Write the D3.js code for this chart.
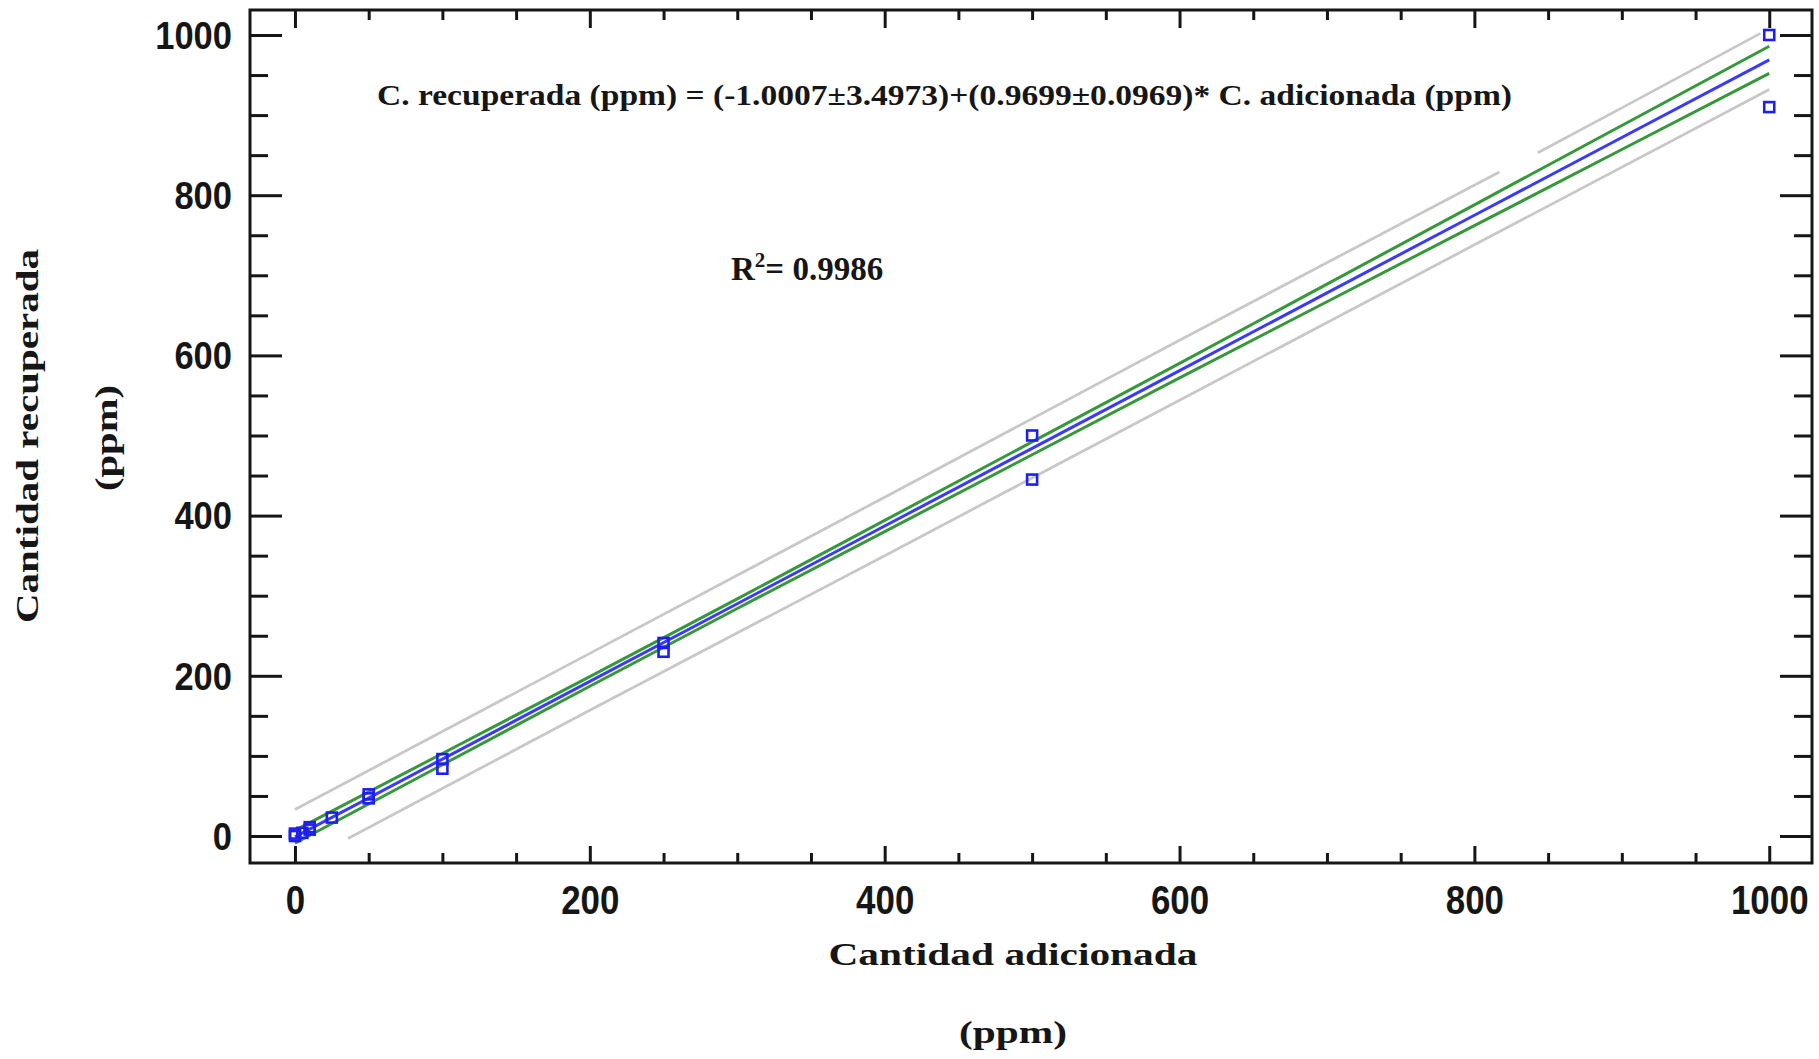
<!DOCTYPE html>
<html>
<head>
<meta charset="utf-8">
<script src="https://cdn.jsdelivr.net/npm/d3@7"></script>
<style>
  html, body { margin: 0; padding: 0; background: #fff; }
  svg { display: block; }
</style>
</head>
<body>
<svg id="chart" width="1819" height="1059"></svg>
<script>
// Recovery data: amount added vs amount recovered (ppm)
const addedPpm     = [0, 0, 5, 10, 10, 25, 50, 50, 100, 100, 250, 250, 500, 500, 1000, 1000];
const recoveredPpm = [0, 3, 4, 11, 8, 23, 52, 47, 96, 84, 241, 230, 500, 445, 1000, 910];

// Fitted line and confidence limits, sampled along the added axis
const bandX     = [0, 100, 200, 300, 400, 500, 600, 700, 800, 900, 1000];
const fitY      = [-1, 96, 193, 290, 387, 484, 581, 678, 775, 872, 969];
const confUpper = [7, 103, 199, 296, 394, 492, 590, 689, 788, 887, 986];
const confLower = [-9, 89, 187, 284, 380, 476, 572, 667, 762, 857, 952];

// Prediction limits (upper one is drawn in two pieces)
const predUpperX1 = [0, 200, 400, 600, 817];
const predUpperY1 = [33, 228, 423, 619, 829];
const predUpperX2 = [843, 900, 994];
const predUpperY2 = [853, 909, 1002];
const predLowerX  = [36, 200, 400, 600, 800, 1000];
const predLowerY  = [-3, 157, 350, 544, 738, 932];

// Axis ticks
const majorTicks = [0, 200, 400, 600, 800, 1000];
const minorTicks = [50, 100, 150, 250, 300, 350, 450, 500, 550, 650, 700, 750, 850, 900, 950];
const tickLabels = ["0", "200", "400", "600", "800", "1000"];

const equationText = "C. recuperada (ppm) = (-1.0007\u00b13.4973)+(0.9699\u00b10.0969)* C. adicionada (ppm)";
const r2Value = "= 0.9986";
const xTitle = ["Cantidad adicionada", "(ppm)"];
const yTitle = ["Cantidad recuperada", "(ppm)"];

const svg = d3.select("#chart");
const L = 250, R = 1812, T = 10, B = 863;

const x = d3.scaleLinear().domain([-30.5, 1029]).range([L, R]);
const y = d3.scaleLinear().domain([-33.7, 1031.2]).range([B, T]);

const ink = "#161616";
const tickFont = "'Liberation Sans Narrow', 'Arial Narrow', 'Liberation Sans', Arial, sans-serif";
const serif = "'Liberation Serif', 'Times New Roman', serif";

svg.append("defs").append("clipPath").attr("id", "plotClip")
  .append("rect").attr("x", L).attr("y", T).attr("width", R - L).attr("height", B - T);

const plot = svg.append("g").attr("clip-path", "url(#plotClip)");

const line = d3.line().x(d => x(d[0])).y(d => y(d[1]));
const zipXY = (xs, ys) => xs.map((v, i) => [v, ys[i]]);

// prediction limits (gray)
[[predUpperX1, predUpperY1], [predUpperX2, predUpperY2], [predLowerX, predLowerY]].forEach(([xs, ys]) => {
  plot.append("path").datum(zipXY(xs, ys))
    .attr("d", line).attr("fill", "none")
    .attr("stroke", "#c8c8c8").attr("stroke-width", 2.8);
});

// confidence limits (green)
[confUpper, confLower].forEach(ys => {
  plot.append("path").datum(zipXY(bandX, ys))
    .attr("d", line).attr("fill", "none")
    .attr("stroke", "#36983a").attr("stroke-width", 3);
});

// fitted line (blue)
plot.append("path").datum(zipXY(bandX, fitY))
  .attr("d", line).attr("fill", "none")
  .attr("stroke", "#3a3aff").attr("stroke-width", 3);

// observations (open squares)
const sq = 10;
plot.append("g").selectAll("rect")
  .data(zipXY(addedPpm, recoveredPpm))
  .join("rect")
  .attr("x", d => x(d[0]) - sq / 2)
  .attr("y", d => y(d[1]) - sq / 2)
  .attr("width", sq).attr("height", sq)
  .attr("fill", "none")
  .attr("stroke", "#1e1eee").attr("stroke-width", 2.6);

// axes: ticks only, frame drawn separately
function styleAxis(g) {
  g.select(".domain").remove();
  g.selectAll(".tick line").attr("stroke", ink).attr("stroke-width", 3);
}

const fmt = d => tickLabels[majorTicks.indexOf(d)];

// bottom
svg.append("g").attr("transform", `translate(0,${B})`)
  .call(d3.axisBottom(x).tickValues(majorTicks).tickSize(-17).tickPadding(23).tickFormat(fmt))
  .call(styleAxis)
  .call(g => g.selectAll(".tick text")
    .attr("fill", ink).attr("font-family", tickFont).attr("font-weight", "bold")
    .attr("font-size", 40)
    .attr("textLength", function () { return this.textContent.length * 19.4; })
    .attr("lengthAdjust", "spacingAndGlyphs"));
svg.append("g").attr("transform", `translate(0,${B})`)
  .call(d3.axisBottom(x).tickValues(minorTicks).tickSize(-10).tickFormat(""))
  .call(styleAxis);

// top
svg.append("g").attr("transform", `translate(0,${T})`)
  .call(d3.axisTop(x).tickValues(majorTicks).tickSize(-18).tickFormat(""))
  .call(styleAxis);
svg.append("g").attr("transform", `translate(0,${T})`)
  .call(d3.axisTop(x).tickValues(minorTicks).tickSize(-10).tickFormat(""))
  .call(styleAxis);

// left
svg.append("g").attr("transform", `translate(${L},0)`)
  .call(d3.axisLeft(y).tickValues(majorTicks).tickSize(-32).tickPadding(18).tickFormat(fmt))
  .call(styleAxis)
  .call(g => g.selectAll(".tick text")
    .attr("fill", ink).attr("font-family", tickFont).attr("font-weight", "bold")
    .attr("font-size", 39).attr("dy", "0.34em")
    .attr("textLength", function () { return this.textContent.length * 19.2; })
    .attr("lengthAdjust", "spacingAndGlyphs"));
svg.append("g").attr("transform", `translate(${L},0)`)
  .call(d3.axisLeft(y).tickValues(minorTicks).tickSize(-18).tickFormat(""))
  .call(styleAxis);

// right
svg.append("g").attr("transform", `translate(${R},0)`)
  .call(d3.axisRight(y).tickValues(majorTicks).tickSize(-32).tickFormat(""))
  .call(styleAxis);
svg.append("g").attr("transform", `translate(${R},0)`)
  .call(d3.axisRight(y).tickValues(minorTicks).tickSize(-18).tickFormat(""))
  .call(styleAxis);

// frame
svg.append("rect").attr("x", L).attr("y", T).attr("width", R - L).attr("height", B - T)
  .attr("fill", "none").attr("stroke", ink).attr("stroke-width", 3);

// regression equation
svg.append("text")
  .attr("x", 377).attr("y", 105)
  .attr("font-family", serif).attr("font-weight", "bold").attr("font-size", 30)
  .attr("fill", ink)
  .attr("textLength", 1135).attr("lengthAdjust", "spacingAndGlyphs")
  .text(equationText);

// coefficient of determination
const r2 = svg.append("text")
  .attr("x", 731).attr("y", 280)
  .attr("font-family", serif).attr("font-weight", "bold").attr("font-size", 33)
  .attr("fill", ink);
r2.append("tspan").text("R");
r2.append("tspan").attr("font-size", 21).attr("dy", -13).text("2");
r2.append("tspan").attr("dy", 13).text(r2Value);

// axis titles
svg.append("text")
  .attr("x", 1013).attr("y", 965).attr("text-anchor", "middle")
  .attr("font-family", serif).attr("font-weight", "bold").attr("font-size", 31)
  .attr("fill", ink)
  .attr("textLength", 369).attr("lengthAdjust", "spacingAndGlyphs")
  .text(xTitle[0]);
svg.append("text")
  .attr("x", 1013).attr("y", 1043).attr("text-anchor", "middle")
  .attr("font-family", serif).attr("font-weight", "bold").attr("font-size", 31)
  .attr("fill", ink)
  .attr("textLength", 108).attr("lengthAdjust", "spacingAndGlyphs")
  .text(xTitle[1]);

svg.append("text")
  .attr("transform", "translate(38,436) rotate(-90)").attr("text-anchor", "middle")
  .attr("font-family", serif).attr("font-weight", "bold").attr("font-size", 31)
  .attr("fill", ink)
  .attr("textLength", 374).attr("lengthAdjust", "spacingAndGlyphs")
  .text(yTitle[0]);
svg.append("text")
  .attr("transform", "translate(117,438) rotate(-90)").attr("text-anchor", "middle")
  .attr("font-family", serif).attr("font-weight", "bold").attr("font-size", 31)
  .attr("fill", ink)
  .attr("textLength", 106).attr("lengthAdjust", "spacingAndGlyphs")
  .text(yTitle[1]);
</script>
</body>
</html>
